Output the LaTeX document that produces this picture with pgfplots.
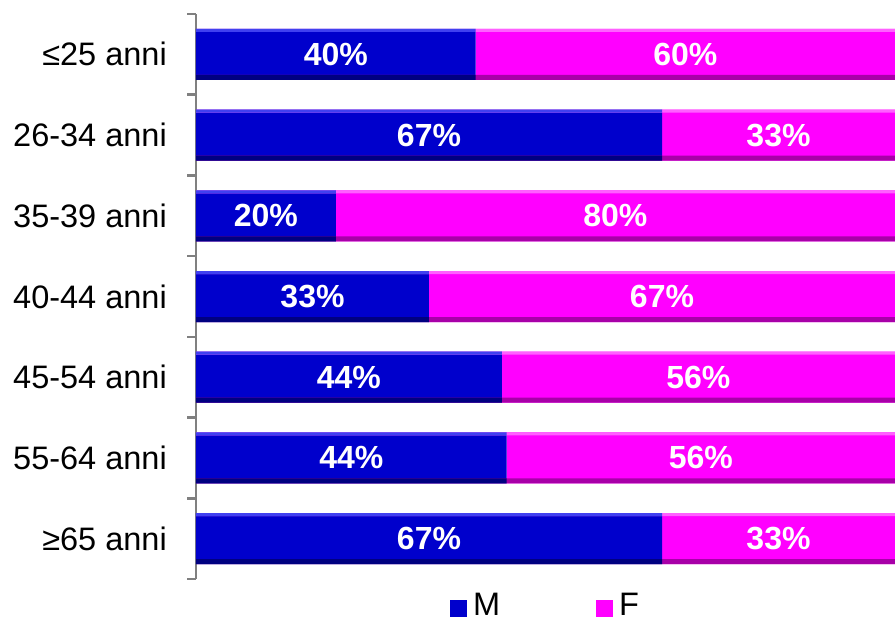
\documentclass[border=0pt]{standalone}
\usepackage{pgfplots}
\pgfplotsset{compat=1.18}
\usepackage{fontspec}
\setmainfont{Liberation Sans}

\definecolor{mBlu}{HTML}{0000CC}
\definecolor{mBluDk}{HTML}{000080}
\definecolor{mBluLt}{HTML}{4040F0}
\definecolor{fMag}{HTML}{FF00FF}
\definecolor{fMagDk}{HTML}{A800A8}
\definecolor{fMagLt}{HTML}{FF60FF}

\newcommand{\bigfont}{\fontsize{32.5}{38}\selectfont}
\newcommand{\barfont}{\fontsize{32}{38}\selectfont}

\pgfplotsset{
  frame/.style={at={(196pt,38pt)}, anchor=south west,
    scale only axis, width=699pt, height=565pt,
    xmin=0, xmax=100, ymin=-0.5, ymax=6.5, y dir=reverse},
  sqlegend/.style={legend image code/.code={\fill[##1, draw=none] (0pt,-11pt) rectangle (17pt,6pt);}},
}

\begin{document}
\begin{tikzpicture}
\path[use as bounding box] (0,0) rectangle (895pt,617pt);
\begin{axis}[
  frame,
  xbar stacked, bar width=51pt,
  axis x line=none, axis y line*=left,
  y axis line style={gray, line width=2.5pt},
  ytick={0,...,6},
  yticklabels={≤25 anni,26-34 anni,35-39 anni,40-44 anni,45-54 anni,55-64 anni,≥65 anni},
  minor ytick={-0.5,0.5,...,6.5},
  major tick length=0pt, minor tick length=9pt,
  tick align=outside,
  minor tick style={gray, line width=2.5pt},
  yticklabel style={font=\bigfont, inner sep=0pt, xshift=-29pt},
  nodes near coords={\pgfmathprintnumber[fixed,precision=0]{\pgfplotspointmeta}\%},
  /pgf/number format/assume math mode=true,
  every node near coord/.append style={font=\bfseries\barfont, text=white},
  legend columns=2,
  legend style={at={(axis description cs:0.3634,-0.047)}, anchor=west,
    draw=none, fill=none, inner sep=0pt, outer sep=0pt, font=\bigfont,
    nodes={inner sep=0pt},
    /tikz/every odd column/.append style={column sep=6pt},
    /tikz/every even column/.append style={column sep=96pt}},
  sqlegend,
]
% M and F shares (%)
\addplot[fill=mBlu, draw=none] coordinates {
  (40,0) (66.67,1) (20,2) (33.33,3) (43.75,4) (44.44,5) (66.67,6)};
\addlegendentry{M}
\addplot[fill=fMag, draw=none] coordinates {
  (60,0) (33.33,1) (80,2) (66.67,3) (56.25,4) (55.56,5) (33.33,6)};
\addlegendentry{F}
\end{axis}
% bevel edges of the bars (dark lower band, light upper band), not stacked
\begin{axis}[frame, hide axis, xbar, bar width=5pt, bar shift=-23pt]
\addplot[fill=fMagDk, draw=none] coordinates {
  (100,0) (100,1) (100,2) (100,3) (100,4) (100,5) (100,6)};
\addplot[fill=fMagLt, draw=none, bar width=3pt, bar shift=24pt] coordinates {
  (100,0) (100,1) (100,2) (100,3) (100,4) (100,5) (100,6)};
\addplot[fill=mBluDk, draw=none] coordinates {
  (40,0) (66.67,1) (20,2) (33.33,3) (43.75,4) (44.44,5) (66.67,6)};
\addplot[fill=mBluLt, draw=none, bar width=3pt, bar shift=24pt] coordinates {
  (40,0) (66.67,1) (20,2) (33.33,3) (43.75,4) (44.44,5) (66.67,6)};
\end{axis}
\end{tikzpicture}
\end{document}
